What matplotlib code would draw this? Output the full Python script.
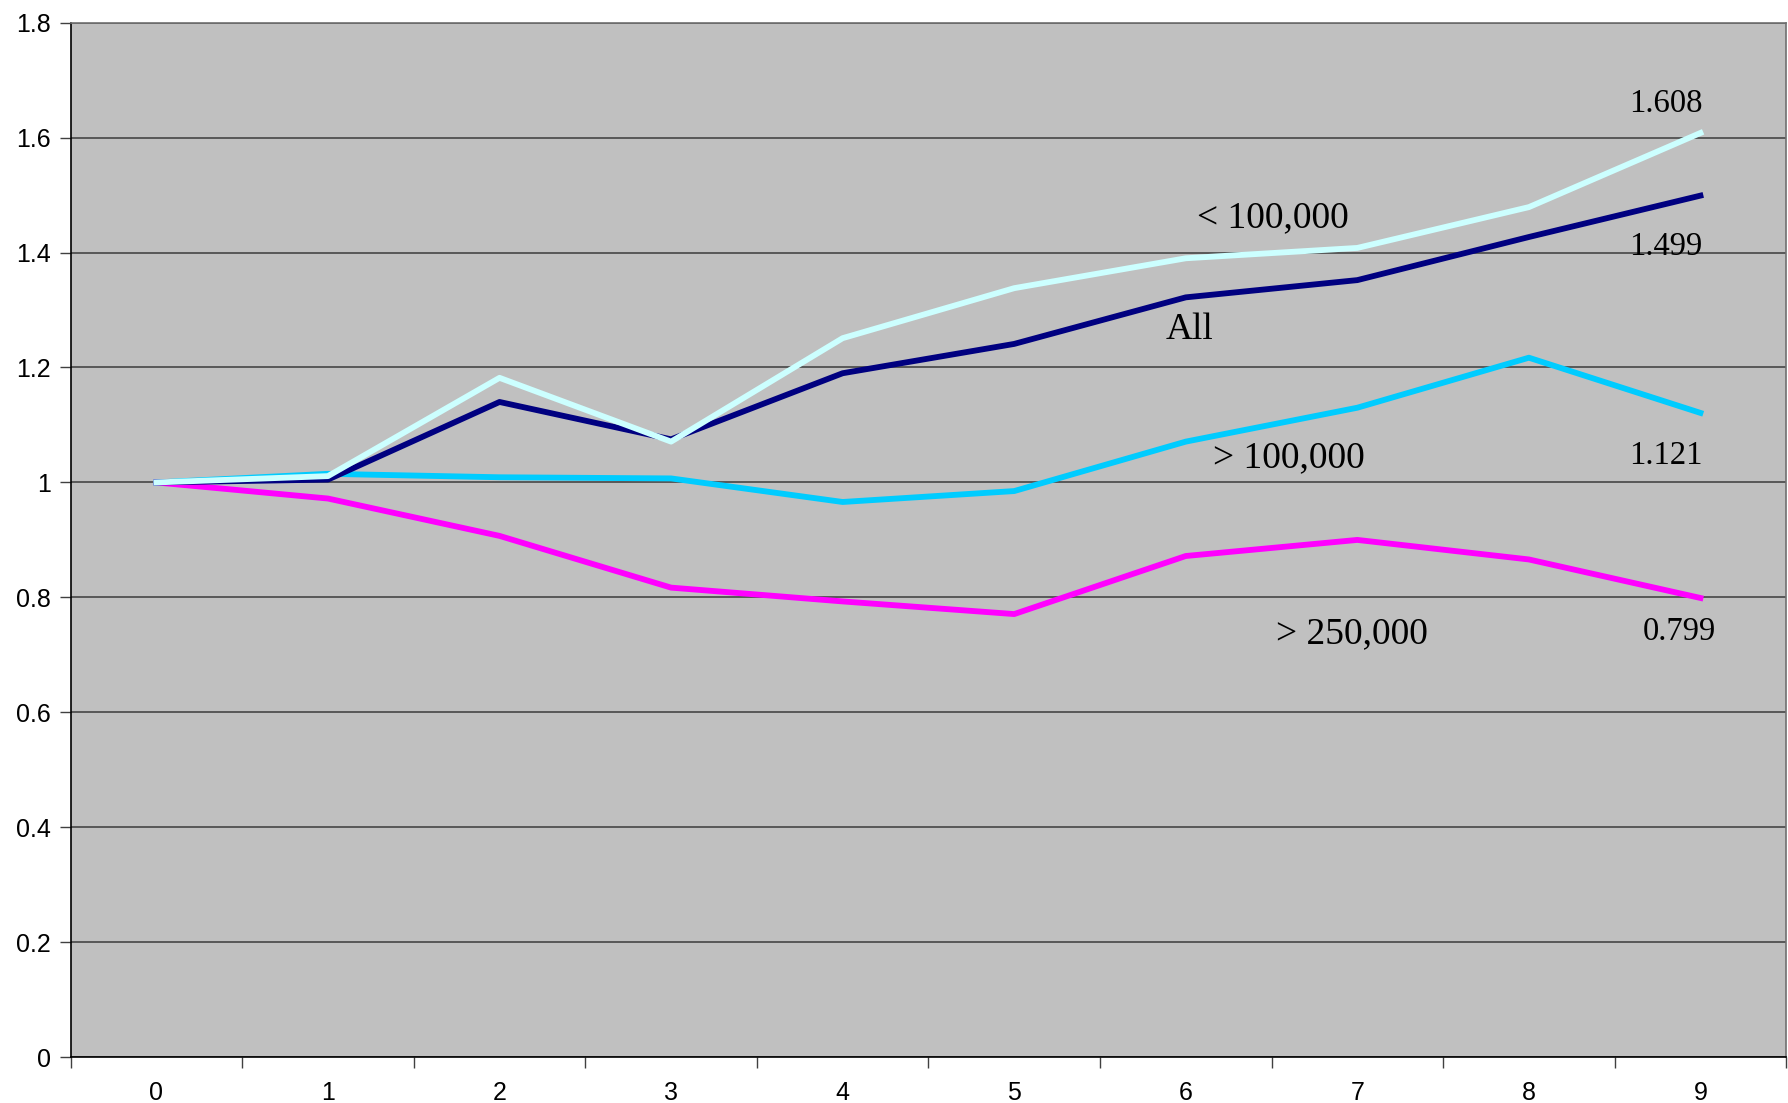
import numpy as np
import matplotlib.pyplot as plt

# Data
years = [0, 1, 2, 3, 4, 5, 6, 7, 8, 9]
under_100k = [1.0, 1.011, 1.182, 1.071, 1.251, 1.338, 1.390, 1.408, 1.479, 1.608]
all_vals = [1.0, 1.005, 1.140, 1.075, 1.190, 1.241, 1.322, 1.352, 1.427, 1.499]
over_100k = [1.0, 1.015, 1.009, 1.007, 0.966, 0.985, 1.071, 1.130, 1.217, 1.121]
over_250k = [1.0, 0.972, 0.907, 0.817, 0.793, 0.771, 0.872, 0.900, 0.866, 0.799]
yticks = [0, 0.2, 0.4, 0.6, 0.8, 1, 1.2, 1.4, 1.6, 1.8]
ytick_labels = ['0', '0.2', '0.4', '0.6', '0.8', '1', '1.2', '1.4', '1.6', '1.8']

fig = plt.figure(figsize=(17.88, 11.03), dpi=100)
ax = fig.add_axes([0.0395, 0.0415, 0.9595, 0.938])
ax.set_facecolor('#C0C0C0')

x = np.arange(len(years))
lw = 4.2
ax.plot(x, over_250k, color='#FF00FF', linewidth=lw, zorder=3)
ax.plot(x, over_100k, color='#00CCFF', linewidth=lw, zorder=4)
ax.plot(x, all_vals, color='#000080', linewidth=lw, zorder=5)
ax.plot(x, under_100k, color='#CCFFFF', linewidth=lw, zorder=6)

ax.set_xlim(-0.5, 9.5)
ax.set_ylim(0, 1.8)
ax.set_yticks(yticks)
ax.set_yticklabels(ytick_labels, fontsize=18, family='Liberation Sans')
ax.yaxis.grid(True, color='#505050', linewidth=1.3)
ax.set_axisbelow(True)

# category axis: ticks between categories, labels at centers
ax.set_xticks(np.arange(-0.5, 10, 1))
ax.set_xticklabels([])
ax.set_xticks(x, minor=True)
ax.set_xticklabels([str(v) for v in years], minor=True, fontsize=18, family='Liberation Sans')
ax.tick_params(axis='x', which='minor', length=0, pad=17)
ax.tick_params(axis='x', which='major', length=8, width=1, color='#404040')
ax.tick_params(axis='y', length=8, width=1, color='#404040', pad=6)

for s in ['left', 'bottom']:
    ax.spines[s].set_color('black')
    ax.spines[s].set_linewidth(1.2)
for s in ['top', 'right']:
    ax.spines[s].set_color('#707070')
    ax.spines[s].set_linewidth(1.2)

serif = 'Liberation Serif'
ax.text(6.51, 1.461, '< 100,000', fontsize=27, family=serif, ha='center', va='center', zorder=7)
ax.text(6.02, 1.265, 'All', fontsize=27, family=serif, ha='center', va='center', zorder=7)
ax.text(6.60, 1.043, '> 100,000', fontsize=27, family=serif, ha='center', va='center', zorder=7)
ax.text(6.97, 0.737, '> 250,000', fontsize=27, family=serif, ha='center', va='center', zorder=7)

ax.text(8.80, 1.659, f'{under_100k[-1]:.3f}', fontsize=23.5, family=serif, ha='center', va='center', zorder=7)
ax.text(8.80, 1.410, f'{all_vals[-1]:.3f}', fontsize=23.5, family=serif, ha='center', va='center', zorder=7)
ax.text(8.80, 1.047, f'{over_100k[-1]:.3f}', fontsize=23.5, family=serif, ha='center', va='center', zorder=7)
ax.text(8.88, 0.741, f'{over_250k[-1]:.3f}', fontsize=23.5, family=serif, ha='center', va='center', zorder=7)

fig.savefig('out.png', dpi=100)
